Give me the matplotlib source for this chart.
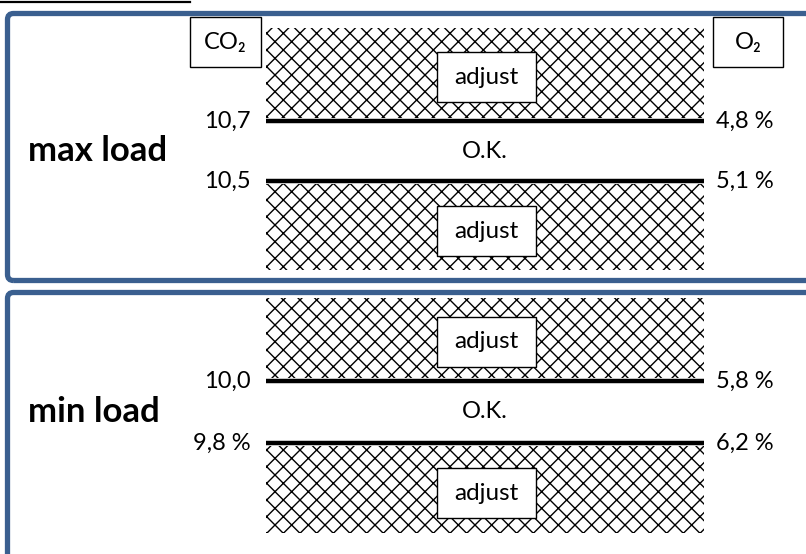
import matplotlib.pyplot as plt
from matplotlib.patches import Rectangle, FancyBboxPatch
from matplotlib.lines import Line2D
from matplotlib.transforms import IdentityTransform

plt.rcParams['font.family'] = ['Lato', 'DejaVu Sans']
plt.rcParams['hatch.linewidth'] = 1.0

# Data: CO2 / O2 limits for each load case
panels = ["max load", "min load"]
co2_upper = [10.7, 10.0]
co2_lower = [10.5, 9.8]
co2_upper_labels = ["10,7", "10,0"]
co2_lower_labels = ["10,5", "9,8 %"]
o2_upper_labels = ["4,8 %", "5,8 %"]
o2_lower_labels = ["5,1 %", "6,2 %"]
zone_labels = ["adjust", "O.K.", "adjust"]

# Layout (pixels of the 806x554 figure, y measured from top)
W, H = 806, 554
panel_px = [(17, 278), (297, 554)]        # inner area of each panel
line_px = [(121, 181), (381, 443)]        # where upper / lower limit lines sit
hatch_px = [(28, 270), (298, 533)]        # hatched area top / bottom
hx0, hx1 = 266 / W, 704 / W               # hatched band x range
box_x0, box_x1 = 437 / W, 536 / W         # "adjust" boxes
border_px = [(13.5, 280.5), (292.5, 570)]
blue = '#3A5F8F'
fs = 17

fig = plt.figure(figsize=(W / 100, H / 100), dpi=100)

for i in range(2):
    top, bot = panel_px[i]
    ya, yb = line_px[i]
    scale = (yb - ya) / (co2_upper[i] - co2_lower[i])   # px per % CO2
    ymax = co2_upper[i] + (ya - top) / scale
    ymin = co2_lower[i] - (bot - yb) / scale
    ax = fig.add_axes([0, (H - bot) / H, 1, (bot - top) / H])
    ax.set_xlim(0, 1)
    ax.set_ylim(ymin, ymax)
    ax.set_axis_off()

    htop = co2_upper[i] + (ya - hatch_px[i][0]) / scale
    hbot = co2_lower[i] - (hatch_px[i][1] - yb) / scale
    gap = 3 / scale
    ax.axhspan(co2_upper[i] + gap, htop, hx0, hx1, facecolor='white',
               edgecolor='black', hatch='xx', lw=0)
    ax.axhspan(hbot, co2_lower[i] - gap, hx0, hx1, facecolor='white',
               edgecolor='black', hatch='xx', lw=0)
    ax.hlines([co2_upper[i], co2_lower[i]], hx0, hx1, color='black', lw=3.2)

    # adjust boxes
    bh = 50 / scale
    off = 4 / scale
    for c in [(co2_upper[i] + gap + htop) / 2 - off, (hbot + co2_lower[i] - gap) / 2 - off]:
        ax.add_patch(Rectangle((box_x0, c - bh / 2), box_x1 - box_x0, bh,
                               facecolor='white', edgecolor='black', lw=1, zorder=3))
        ax.text((box_x0 + box_x1) / 2, c, zone_labels[0], ha='center', va='center',
                fontsize=17.5, zorder=4)

    mid = (co2_upper[i] + co2_lower[i]) / 2
    ax.text((hx0 + hx1) / 2, mid, zone_labels[1], ha='center', va='center', fontsize=fs)
    ax.text(28 / W, mid, panels[i], ha='left', va='center', fontsize=25, fontweight='bold')

    ax.text(251 / W, co2_upper[i], co2_upper_labels[i], ha='right', va='center', fontsize=fs)
    ax.text(251 / W, co2_lower[i], co2_lower_labels[i], ha='right', va='center', fontsize=fs)
    ax.text(716 / W, co2_upper[i], o2_upper_labels[i], ha='left', va='center', fontsize=fs)
    ax.text(716 / W, co2_lower[i], o2_lower_labels[i], ha='left', va='center', fontsize=fs)

    # panel border
    t, b = border_px[i]
    fig.add_artist(FancyBboxPatch((7.5, H - b), 815, b - t,
                                  boxstyle='round,pad=0,rounding_size=6',
                                  transform=IdentityTransform(), facecolor='none',
                                  edgecolor=blue, lw=3.8))

# header boxes for the two gases
for (x0, x1), label in [((190, 261), "CO₂"), ((713, 783), "O₂")]:
    fig.add_artist(Rectangle((x0, H - 67), x1 - x0, 50, transform=IdentityTransform(),
                             facecolor='white', edgecolor='black', lw=1))
    fig.text((x0 + x1) / 2 / W, (H - 42) / H, label, ha='center', va='center', fontsize=fs)

# short rule at the very top
fig.add_artist(Line2D([0, 190 / W], [1 - 1.5 / H, 1 - 1.5 / H], color='black', lw=1.6))

fig.savefig('out.png', dpi=100)
